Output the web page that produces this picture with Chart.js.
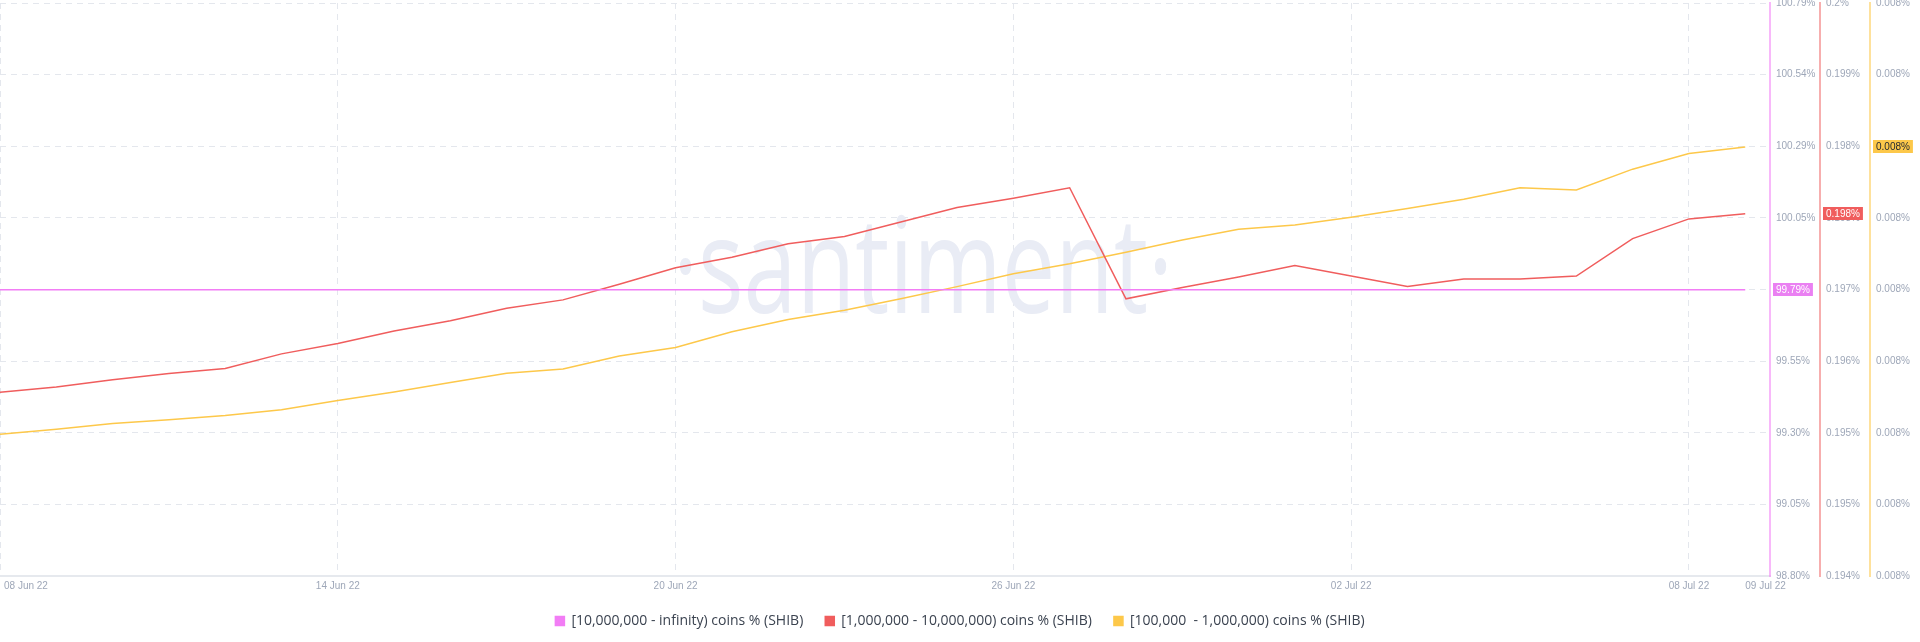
<!DOCTYPE html>
<html>
<head>
<meta charset="utf-8">
<script src="https://cdn.jsdelivr.net/npm/chart.js@4.4.1/dist/chart.umd.min.js"></script>
<style>
  html, body { margin: 0; padding: 0; background: #fff; }
  #wrap { width: 1920px; height: 642px; position: relative; }
</style>
</head>
<body>
<div id="wrap"><canvas id="holders"></canvas></div>
<script>
// days shown on the x axis (one point per day)
const dates = [
  '08 Jun 22', '09 Jun 22', '10 Jun 22', '11 Jun 22', '12 Jun 22', '13 Jun 22', '14 Jun 22', '15 Jun 22',
  '16 Jun 22', '17 Jun 22', '18 Jun 22', '19 Jun 22', '20 Jun 22', '21 Jun 22', '22 Jun 22', '23 Jun 22',
  '24 Jun 22', '25 Jun 22', '26 Jun 22', '27 Jun 22', '28 Jun 22', '29 Jun 22', '30 Jun 22', '01 Jul 22',
  '02 Jul 22', '03 Jul 22', '04 Jul 22', '05 Jul 22', '06 Jul 22', '07 Jul 22', '08 Jul 22', '09 Jul 22'
];
const xTickDays = [0, 6, 12, 18, 24, 30, 31];

// [10,000,000 - infinity) coins %
const pinkValues = [
  99.794, 99.794, 99.794, 99.794, 99.794, 99.794, 99.794, 99.794,
  99.794, 99.794, 99.794, 99.794, 99.794, 99.794, 99.794, 99.794,
  99.794, 99.794, 99.794, 99.794, 99.794, 99.794, 99.794, 99.794,
  99.794, 99.794, 99.794, 99.794, 99.794, 99.794, 99.794, 99.794
];
// [1,000,000 - 10,000,000) coins %
const redValues = [
  0.19587, 0.19592, 0.19599, 0.19605, 0.19610, 0.19624, 0.19634, 0.19646,
  0.19656, 0.19668, 0.19676, 0.19691, 0.19707, 0.19717, 0.19730, 0.19737,
  0.19751, 0.19765, 0.19774, 0.19784, 0.19677, 0.19688, 0.19698, 0.19709,
  0.19699, 0.19689, 0.19696, 0.19696, 0.19699, 0.19735, 0.19754, 0.19759
];
// [100,000 - 1,000,000) coins %
const yellowValues = [
  0.0079798, 0.0079805, 0.0079813, 0.0079818, 0.0079824, 0.0079832, 0.0079845, 0.0079857,
  0.0079870, 0.0079883, 0.0079889, 0.0079907, 0.0079919, 0.0079941, 0.0079958, 0.0079971,
  0.0079987, 0.0080004, 0.0080022, 0.0080036, 0.0080052, 0.0080069, 0.0080084, 0.0080090,
  0.0080101, 0.0080113, 0.0080126, 0.0080142, 0.0080139, 0.0080168, 0.0080190, 0.0080199
];

// axis tick labels, bottom to top
const pinkTicks = ['98.80%', '99.05%', '99.30%', '99.55%', '99.79%', '100.05%', '100.29%', '100.54%', '100.79%'];
const redTicks = ['0.194%', '0.195%', '0.195%', '0.196%', '0.197%', '0.198%', '0.198%', '0.199%', '0.2%'];
const yellowTicks = ['0.008%', '0.008%', '0.008%', '0.008%', '0.008%', '0.008%', '0.008%', '0.008%', '0.008%'];

const FONT = '"Liberation Sans", Arial, sans-serif';
const TICK = '#9ea7b8';
const GRID = '#e4e7ed';
const PINK = '#f27df5', RED = '#f05d5d', YELLOW = '#fdc84a';

const toXY = arr => arr.map((v, i) => ({ x: i, y: v }));

// 9 evenly spaced ticks from min to max
function evenTicks(scale) {
  scale.ticks = [];
  for (let i = 0; i <= 8; i++) scale.ticks.push({ value: scale.min + (scale.max - scale.min) * i / 8 });
}

function rightAxis(min, max, labels, borderColor, withGrid) {
  return {
    position: 'right', min, max,
    afterBuildTicks: evenTicks,
    ticks: { callback: (v, i) => labels[i], color: TICK, font: { size: 10, family: FONT }, padding: 6 },
    grid: { display: withGrid, color: GRID, drawTicks: false },
    border: { display: true, color: borderColor, width: 2, dash: [6, 5] },
    afterFit: s => { s.width = 50; s.paddingTop = 0; s.paddingBottom = 0; }
  };
}

// last value tag on each right axis
const tagStyle = {
  yPink: { bg: '#ea80f2', fg: '#ffffff', fmt: v => v.toFixed(2) + '%' },
  yRed: { bg: '#f05d5d', fg: '#ffffff', fmt: v => v.toFixed(3) + '%' },
  yYellow: { bg: '#fdc84a', fg: '#1e2430', fmt: v => v.toFixed(3) + '%' }
};
const valueTags = {
  id: 'valueTags',
  afterDraw(chart) {
    const ctx = chart.ctx;
    ctx.save();
    ctx.font = '10px ' + FONT;
    ctx.textBaseline = 'middle';
    chart.data.datasets.forEach(ds => {
      const st = tagStyle[ds.yAxisID];
      const scale = chart.scales[ds.yAxisID];
      const last = ds.data[ds.data.length - 1].y;
      const y = scale.getPixelForValue(last);
      const text = st.fmt(last);
      const w = ctx.measureText(text).width + 6;
      ctx.fillStyle = st.bg;
      ctx.fillRect(scale.left + 3, Math.round(y - 6.5), w, 13);
      ctx.fillStyle = st.fg;
      ctx.fillText(text, scale.left + 6, y + 0.5);
    });
    ctx.restore();
  }
};

// date labels under the x axis (first and last start at their point)
const xLabels = {
  id: 'xLabels',
  afterDraw(chart) {
    const ctx = chart.ctx, xs = chart.scales.x;
    ctx.save();
    ctx.font = '10px ' + FONT;
    ctx.fillStyle = TICK;
    ctx.textBaseline = 'middle';
    xTickDays.forEach((d, i) => {
      const px = xs.getPixelForValue(d);
      if (i === 0) { ctx.textAlign = 'left'; ctx.fillText(dates[d], px + 4, xs.top + 10); }
      else if (i === xTickDays.length - 1) { ctx.textAlign = 'left'; ctx.fillText(dates[d], px, xs.top + 10); }
      else { ctx.textAlign = 'center'; ctx.fillText(dates[d], px, xs.top + 10); }
    });
    ctx.restore();
  }
};

// faint watermark behind the lines
const watermark = {
  id: 'watermark',
  beforeDatasetsDraw(chart) {
    const ctx = chart.ctx;
    ctx.save();
    ctx.font = '134px "Open Sans", sans-serif';
    ctx.fillStyle = '#e9ecf5';
    ctx.textBaseline = 'alphabetic';
    const text = '\u00B7santiment\u00B7';
    const w = ctx.measureText(text).width;
    ctx.translate(673, 313);
    ctx.scale(500 / w, 1);
    ctx.fillText(text, 0, 0);
    ctx.restore();
  }
};

const lineDs = (label, data, color, axis) => ({
  label, data: toXY(data), yAxisID: axis,
  borderColor: color, backgroundColor: color,
  borderWidth: 1.5, pointRadius: 0, tension: 0, fill: false
});

new Chart(document.getElementById('holders'), {
  type: 'line',
  data: {
    datasets: [
      lineDs('[10,000,000 - infinity) coins % (SHIB)', pinkValues, PINK, 'yPink'),
      lineDs('[1,000,000 - 10,000,000) coins % (SHIB)', redValues, RED, 'yRed'),
      lineDs('[100,000  - 1,000,000) coins % (SHIB)', yellowValues, YELLOW, 'yYellow')
    ]
  },
  options: {
    responsive: true,
    maintainAspectRatio: false,
    animation: false,
    layout: { padding: { top: 3, bottom: 4, left: 0, right: 0 } },
    plugins: {
      legend: {
        position: 'bottom',
        labels: { boxWidth: 9, boxHeight: 9, padding: 22, color: '#3b4350', font: { size: 14, family: '"Open Sans", sans-serif' } }
      },
      tooltip: { enabled: false }
    },
    scales: {
      x: {
        type: 'linear', min: 0, max: 31.44,
        afterBuildTicks: s => { s.ticks = xTickDays.map(v => ({ value: v })); },
        ticks: { display: false },
        grid: { color: c => (c.tick && c.tick.value === 31 ? 'rgba(0,0,0,0)' : GRID), drawTicks: false },
        border: { display: true, color: '#e6e9ee', width: 2, dash: [6, 5] },
        afterFit: s => { s.height = 16; s.paddingLeft = 0; s.paddingRight = 0; }
      },
      yPink: rightAxis(98.80, 100.79, pinkTicks, 'rgba(242,125,245,0.55)', true),
      yRed: rightAxis(0.1941, 0.19962, redTicks, 'rgba(240,93,93,0.5)', false),
      yYellow: rightAxis(0.00796, 0.00804, yellowTicks, 'rgba(253,200,74,0.55)', false)
    }
  },
  plugins: [watermark, valueTags, xLabels]
});
</script>
</body>
</html>
